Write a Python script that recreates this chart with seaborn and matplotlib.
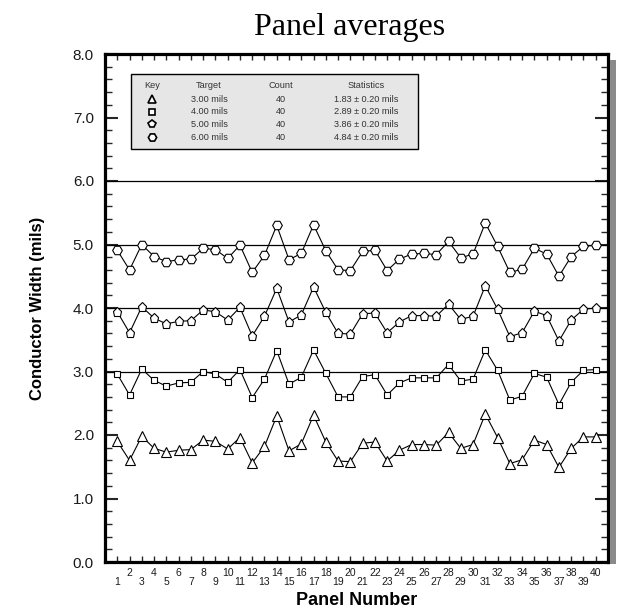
import numpy as np
import pandas as pd
import matplotlib
matplotlib.use("Agg")
import matplotlib.pyplot as plt
from matplotlib.patches import Rectangle
from matplotlib.ticker import MultipleLocator
import seaborn as sns

# ---- data -------------------------------------------------------------
panels = list(range(1, 41))

width_3mil = [1.90, 1.60, 1.98, 1.79, 1.73, 1.76, 1.77, 1.92, 1.90, 1.78,
              1.96, 1.56, 1.82, 2.30, 1.75, 1.86, 2.31, 1.89, 1.59, 1.58,
              1.87, 1.89, 1.59, 1.76, 1.85, 1.85, 1.84, 2.04, 1.79, 1.85,
              2.33, 1.96, 1.55, 1.61, 1.92, 1.85, 1.49, 1.79, 1.97, 1.97]
width_4mil = [2.96, 2.63, 3.04, 2.86, 2.77, 2.82, 2.83, 3.00, 2.96, 2.83,
              3.03, 2.59, 2.88, 3.33, 2.80, 2.91, 3.34, 2.97, 2.60, 2.60,
              2.92, 2.95, 2.63, 2.82, 2.90, 2.90, 2.90, 3.11, 2.85, 2.88,
              3.34, 3.02, 2.55, 2.61, 2.97, 2.91, 2.48, 2.83, 3.02, 3.03]
width_5mil = [3.94, 3.61, 4.02, 3.84, 3.75, 3.79, 3.80, 3.97, 3.94, 3.81,
              4.01, 3.56, 3.87, 4.31, 3.78, 3.89, 4.33, 3.93, 3.60, 3.59,
              3.91, 3.92, 3.61, 3.78, 3.88, 3.88, 3.87, 4.06, 3.82, 3.87,
              4.35, 3.98, 3.55, 3.61, 3.95, 3.88, 3.48, 3.81, 3.98, 4.00]
width_6mil = [4.91, 4.60, 5.00, 4.81, 4.73, 4.76, 4.77, 4.94, 4.92, 4.78,
              4.99, 4.56, 4.83, 5.30, 4.76, 4.86, 5.31, 4.90, 4.60, 4.59,
              4.89, 4.91, 4.59, 4.77, 4.85, 4.86, 4.84, 5.05, 4.79, 4.85,
              5.34, 4.97, 4.56, 4.61, 4.94, 4.85, 4.50, 4.81, 4.97, 4.99]

targets = ["3.00 mils", "4.00 mils", "5.00 mils", "6.00 mils"]
target_values = [3.0, 4.0, 5.0, 6.0]
counts = ["40", "40", "40", "40"]
statistics = ["1.83 \u00b1 0.20 mils", "2.89 \u00b1 0.20 mils",
              "3.86 \u00b1 0.20 mils", "4.84 \u00b1 0.20 mils"]
y_ticks = [0, 1, 2, 3, 4, 5, 6, 7, 8]

series = [width_3mil, width_4mil, width_5mil, width_6mil]
markers = ["^", "s", "p", "H"]
marker_sizes = [7, 5, 6.5, 7]

df = pd.concat(
    [pd.DataFrame({"panel": panels, "width": vals, "target": t})
     for vals, t in zip(series, targets)],
    ignore_index=True)

# ---- figure -----------------------------------------------------------
sns.set_style("white")
plt.rcParams["font.family"] = ["Liberation Sans", "DejaVu Sans"]
plt.rcParams["text.color"] = "black"
plt.rcParams["axes.labelcolor"] = "black"

W, H = 618, 611
fig = plt.figure(figsize=(W / 100, H / 100), dpi=100)
ax_l, ax_r, ax_t, ax_b = 105, 608, 54, 562
ax = fig.add_axes([ax_l / W, 1 - ax_b / H, (ax_r - ax_l) / W, (ax_b - ax_t) / H])

# target reference lines
for tv in target_values:
    ax.axhline(tv, color="black", lw=0.9, zorder=1)

for t, m, ms in zip(targets, markers, marker_sizes):
    sns.lineplot(data=df[df["target"] == t], x="panel", y="width", ax=ax,
                 color="black", lw=0.8, marker=m, markersize=ms,
                 markerfacecolor="white", markeredgecolor="black",
                 markeredgewidth=0.8, zorder=3)

ax.set_xlim(0, 41)
ax.set_ylim(0, 8)

# axes frame
for side in ["left", "right", "top", "bottom"]:
    ax.spines[side].set_visible(True)
    ax.spines[side].set_linewidth(2.3)
    ax.spines[side].set_color("black")

# y ticks
ax.set_yticks(y_ticks)
ax.set_yticklabels([f"{v:.1f}" for v in y_ticks])
ax.yaxis.set_minor_locator(MultipleLocator(0.2))
ax.tick_params(axis="y", which="major", direction="in", length=9.5, width=1.5,
               left=True, right=True, labelsize=11, pad=8, labelcolor="#1a1a1a")
ax.tick_params(axis="y", which="minor", direction="in", length=5, width=1.0,
               left=True, right=True)

# x ticks: one per panel, labels in two staggered rows
ax.set_xticks(panels)
ax.set_xticklabels([str(p) for p in panels])
ax.tick_params(axis="x", which="major", direction="in", length=4.5, width=1.0,
               bottom=True, top=True, labelsize=7.5, labelcolor="#1a1a1a")
for p, tick in zip(panels, ax.xaxis.get_major_ticks()):
    tick.set_pad(4.0 if p % 2 == 0 else 10.5)

ax.set_xlabel("Panel Number", fontsize=13, fontweight="bold", va="top")
ax.xaxis.set_label_coords(0.5, -0.06)
ax.set_ylabel("Conductor Width (mils)", fontsize=12, fontweight="bold")
ax.yaxis.set_label_coords(-0.12, 0.5)

# drop shadow on the right of the frame
fig.patches.append(Rectangle(((ax_r + 2) / W, 1 - (ax_b + 2) / H), 6 / W,
                             (ax_b - ax_t - 4) / H, transform=fig.transFigure,
                             facecolor="#8a8a8a", edgecolor="none", zorder=0))

# key table
def ax_x(px):
    return (px - ax_l) / (ax_r - ax_l)

def ax_y(py):
    return (ax_b - py) / (ax_b - ax_t)

bx0, bx1, by0, by1 = 131, 418, 74, 149
ax.add_patch(Rectangle((ax_x(bx0), ax_y(by1)), ax_x(bx1) - ax_x(bx0),
                       ax_y(by0) - ax_y(by1), transform=ax.transAxes,
                       facecolor="#e6e6e6", edgecolor="black", lw=1.0, zorder=4))

col_x = [152, 209, 281, 366]
row_y = [86, 99.3, 111.7, 124.3, 137.3]
kw = dict(transform=ax.transAxes, ha="center", va="center", fontsize=6.6,
          color="#333333", zorder=5)
for cx, head in zip(col_x, ["Key", "Target", "Count", "Statistics"]):
    ax.text(ax_x(cx), ax_y(row_y[0]), head, **kw)
for i in range(4):
    ry = ax_y(row_y[i + 1])
    ax.plot([ax_x(col_x[0])], [ry], marker=markers[i],
            markersize=marker_sizes[i] * 0.85, markerfacecolor="white",
            markeredgecolor="black", markeredgewidth=1.2,
            transform=ax.transAxes, zorder=5, clip_on=False)
    ax.text(ax_x(col_x[1]), ry, targets[i], **kw)
    ax.text(ax_x(col_x[2]), ry, counts[i], **kw)
    ax.text(ax_x(col_x[3]), ry, statistics[i], **kw)

fig.text(350 / W, 1 - 35 / H, "Panel averages", ha="center", va="baseline",
         fontsize=23, color="black", family=["Liberation Serif", "DejaVu Serif"])

fig.savefig("out.png", dpi=100)
